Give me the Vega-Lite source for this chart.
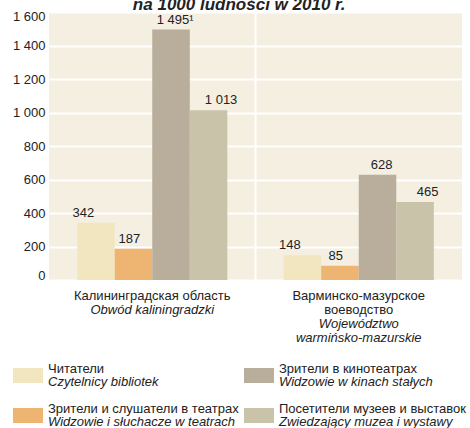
{
  "$schema": "https://vega.github.io/schema/vega-lite/v6.json",
  "width": 413,
  "height": 268,
  "autosize": {"type": "none"},
  "padding": {"left": 49, "top": 12, "right": 8, "bottom": 148},
  "title": {
    "text": "na 1000 ludności w 2010 r.",
    "fontSize": 17,
    "fontWeight": "bold",
    "fontStyle": "italic",
    "color": "#222",
    "anchor": "middle",
    "frame": "bounds",
    "offset": -4
  },
  "config": {
    "font": "Liberation Sans",
    "view": {"fill": "#F5EFE2", "stroke": null},
    "axis": {"labelColor": "#222", "labelFontSize": 13, "domain": false, "ticks": false, "title": null, "labelFont": "Liberation Sans"}
  },
  "datasets": {
    "bars": [
      {"region": "Калининградская область", "cat": "Читатели", "value": 342, "label": "342"},
      {"region": "Калининградская область", "cat": "Зрители и слушатели в театрах", "value": 187, "label": "187"},
      {"region": "Калининградская область", "cat": "Зрители в кинотеатрах", "value": 1495, "label": "1 495¹"},
      {"region": "Калининградская область", "cat": "Посетители музеев и выставок", "value": 1013, "label": "1 013"},
      {"region": "Варминско-мазурское воеводство", "cat": "Читатели", "value": 148, "label": "148"},
      {"region": "Варминско-мазурское воеводство", "cat": "Зрители и слушатели в театрах", "value": 85, "label": "85"},
      {"region": "Варминско-мазурское воеводство", "cat": "Зрители в кинотеатрах", "value": 628, "label": "628"},
      {"region": "Варминско-мазурское воеводство", "cat": "Посетители музеев и выставок", "value": 465, "label": "465"}
    ],
    "divider": [
      {"region": "Варминско-мазурское воеводство"}
    ],
    "legend": [
      {"cat": "Читатели", "pl": "Czytelnicy bibliotek", "col": 0, "row": 0},
      {"cat": "Зрители в кинотеатрах", "pl": "Widzowie w kinach stałych", "col": 1, "row": 0},
      {"cat": "Зрители и слушатели в театрах", "pl": "Widzowie i słuchacze w teatrach", "col": 0, "row": 1},
      {"cat": "Посетители музеев и выставок", "pl": "Zwiedzający muzea i wystawy", "col": 1, "row": 1}
    ]
  },
  "layer": [
    {
      "data": {"name": "bars"},
      "mark": {"type": "bar"},
      "encoding": {
        "x": {
          "field": "region", "type": "nominal",
          "scale": {"domain": ["Калининградская область", "Варминско-мазурское воеводство"], "paddingInner": 0, "paddingOuter": 0},
          "axis": {
            "orient": "bottom",
            "labelPadding": 9,
            "labelLineHeight": 14,
            "labelAngle": 0,
            "labelExpr": "datum.value == 'Калининградская область' ? 'Калининградская область' : ['Варминско-мазурское', 'воеводство']"
          }
        },
        "xOffset": {
          "field": "cat", "type": "nominal",
          "scale": {"domain": ["Читатели", "Зрители и слушатели в театрах", "Зрители в кинотеатрах", "Посетители музеев и выставок"], "paddingInner": 0, "paddingOuter": 0.75}
        },
        "y": {
          "field": "value", "type": "quantitative",
          "scale": {"domain": [0, 1600], "nice": false},
          "axis": {
            "values": [0, 200, 400, 600, 800, 1000, 1200, 1400, 1600],
            "format": ",d",
            "labelExpr": "replace(datum.label, ',', ' ')",
            "grid": true,
            "gridColor": "#FFFFFF",
            "gridWidth": 2,
            "labelPadding": 4,
            "labelFlush": true,
            "labelFlushOffset": 2
          }
        },
        "color": {
          "field": "cat", "type": "nominal",
          "scale": {
            "domain": ["Читатели", "Зрители и слушатели в театрах", "Зрители в кинотеатрах", "Посетители музеев и выставок"],
            "range": ["#F1E6C0", "#EDB472", "#B8AE9B", "#C9C3AA"]
          },
          "legend": null
        }
      }
    },
    {
      "data": {"name": "bars"},
      "mark": {"type": "text", "baseline": "bottom", "dy": -3, "fontSize": 13, "color": "#222"},
      "encoding": {
        "x": {
          "field": "region", "type": "nominal",
          "scale": {"domain": ["Калининградская область", "Варминско-мазурское воеводство"], "paddingInner": 0, "paddingOuter": 0},
          "axis": {
            "orient": "bottom",
            "labelPadding": {"condition": {"test": "datum.value == 'Калининградская область'", "value": 23}, "value": 37},
            "labelLineHeight": 14,
            "labelAngle": 0,
            "labelFontStyle": "italic",
            "labelExpr": "datum.value == 'Калининградская область' ? 'Obwód kaliningradzki' : ['Województwo', 'warmińsko-mazurskie']"
          }
        },
        "xOffset": {
          "field": "cat", "type": "nominal",
          "scale": {"domain": ["Читатели", "Зрители и слушатели в театрах", "Зрители в кинотеатрах", "Посетители музеев и выставок"], "paddingInner": 0, "paddingOuter": 0.75}
        },
        "y": {"field": "value", "type": "quantitative", "scale": {"domain": [0, 1600], "nice": false}, "axis": null},
        "text": {"field": "label"}
      }
    },
    {
      "data": {"name": "divider"},
      "mark": {"type": "rule", "color": "#FFFFFF", "strokeWidth": 2},
      "encoding": {
        "x": {
          "field": "region", "type": "nominal", "bandPosition": 0,
          "scale": {"domain": ["Калининградская область", "Варминско-мазурское воеводство"], "paddingInner": 0, "paddingOuter": 0},
          "axis": null
        }
      }
    },
    {
      "data": {"name": "legend"},
      "mark": {"type": "point", "shape": "M-1,-0.5H1V0.5H-1Z", "size": 900, "filled": true, "opacity": 1},
      "encoding": {
        "x": {"field": "col", "type": "quantitative", "scale": {"domain": [0, 1], "range": [-21, 210], "nice": false, "zero": false}, "axis": null},
        "y": {"field": "row", "type": "quantitative", "scale": {"domain": [0, 1], "range": [363.5, 403.5], "nice": false, "zero": false}, "axis": null},
        "color": {"field": "cat", "type": "nominal", "legend": null}
      }
    },
    {
      "data": {"name": "legend"},
      "mark": {"type": "text", "align": "left", "baseline": "middle", "dx": 20, "dy": -7, "fontSize": 13, "color": "#222"},
      "encoding": {
        "x": {"field": "col", "type": "quantitative", "scale": {"domain": [0, 1], "range": [-21, 210], "nice": false, "zero": false}, "axis": null},
        "y": {"field": "row", "type": "quantitative", "scale": {"domain": [0, 1], "range": [363.5, 403.5], "nice": false, "zero": false}, "axis": null},
        "text": {"field": "cat"}
      }
    },
    {
      "data": {"name": "legend"},
      "mark": {"type": "text", "align": "left", "baseline": "middle", "dx": 20, "dy": 6, "fontSize": 13, "fontStyle": "italic", "color": "#222"},
      "encoding": {
        "x": {"field": "col", "type": "quantitative", "scale": {"domain": [0, 1], "range": [-21, 210], "nice": false, "zero": false}, "axis": null},
        "y": {"field": "row", "type": "quantitative", "scale": {"domain": [0, 1], "range": [363.5, 403.5], "nice": false, "zero": false}, "axis": null},
        "text": {"field": "pl"}
      }
    }
  ],
  "resolve": {"scale": {"x": "independent", "y": "independent", "xOffset": "independent"}}
}
